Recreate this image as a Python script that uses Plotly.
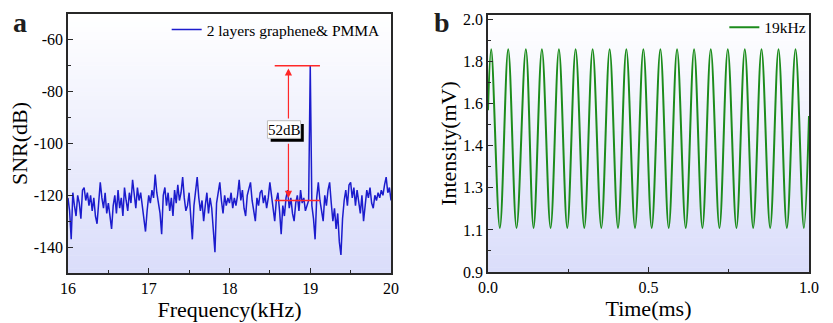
import plotly.graph_objects as go

# ---------------- Panel a: noise spectrum ----------------
freq_start_khz = 16.0
freq_step_khz = 0.02
snr_db = [
    # 16.00 - 16.48
    -121, -126, -137, -119, -124, -128, -120, -123, -129, -118, -117, -122, -119,
    -124, -120, -126, -121, -128, -131, -122, -115, -121, -125, -119, -127,
    # 16.50 - 16.98
    -123, -129, -133, -124, -120, -127, -118, -125, -121, -128, -117, -122, -126,
    -119, -123, -114, -120, -125, -117, -122, -119, -124, -128, -134, -126,
    # 17.00 - 17.48
    -120, -123, -118, -121, -112, -119, -124, -127, -135, -120, -117, -124, -119,
    -126, -121, -128, -118, -123, -116, -122, -119, -113, -121, -126, -124,
    # 17.50 - 17.98
    -119, -128, -137, -124, -118, -113, -121, -126, -122, -130, -124, -119, -127,
    -121, -125, -132, -142, -123, -118, -115, -122, -127, -120, -124, -121,
    # 18.00 - 18.48
    -123, -119, -125, -121, -124, -120, -114, -122, -118, -125, -128, -120, -117,
    -115, -122, -126, -130, -121, -124, -119, -118, -123, -120, -125, -121,
    # 18.50 - 18.98
    -115, -120, -124, -130, -122, -119, -126, -135, -124, -128, -121, -118, -125,
    -121, -127, -130, -123, -120, -126, -118, -123, -121, -126, -124, -122,
    # 19.00 - 19.48
    -70, -124, -129, -137, -121, -115, -122, -127, -130, -120, -124, -118, -115,
    -123, -130, -125, -133, -127, -138, -143, -129, -122, -118, -124, -116,
    # 19.50 - 20.00
    -115, -121, -117, -124, -118, -122, -127, -120, -130, -124, -118, -121, -117,
    -123, -125, -120, -122, -119, -121, -118, -120, -116, -113, -119, -117, -122,
]
freq_khz = [round(freq_start_khz + i * freq_step_khz, 3) for i in range(len(snr_db))]

snr_tickvals = [-60, -80, -100, -120, -140]
snr_ticktext = ["-60", "-80", "-100", "-120", "-140"]

# 52 dB marker: signal level, noise floor and the span of the bracket lines
signal_level_db = -70
noise_floor_db = -122
bracket_x = [18.56, 19.12]
arrow_x = 18.73
snr_label = "52dB"

# ---------------- Panel b: time-domain waveform ----------------
peak_times_ms = [0.010, 0.063, 0.118, 0.168, 0.221, 0.273, 0.326, 0.379, 0.431, 0.484,
                 0.537, 0.589, 0.642, 0.694, 0.747, 0.800, 0.852, 0.905, 0.958]
trough_times_ms = [0.037, 0.089, 0.142, 0.195, 0.247, 0.300, 0.353, 0.405, 0.458, 0.510,
                   0.563, 0.616, 0.668, 0.721, 0.774, 0.826, 0.879, 0.931, 0.984]
peak_level = 1.871
trough_level = 1.092
start_point = (0.0, 1.605)
end_point = (1.0, 1.58)

intensity_tickvals = [0.9, 1.0833, 1.2667, 1.45, 1.6333, 1.8167, 2.0]
intensity_ticktext = ["0.9", "1.1", "1.3", "1.4", "1.6", "1.8", "2.0"]

# Merge extremes into one time-ordered trace
wave_pts = [start_point]
wave_pts += [(t, peak_level) for t in peak_times_ms]
wave_pts += [(t, trough_level) for t in trough_times_ms]
wave_pts.append(end_point)
wave_pts.sort(key=lambda p: p[0])
wave_t = [p[0] for p in wave_pts]
wave_v = [p[1] for p in wave_pts]

FONT = "Liberation Serif, Times New Roman, serif"
BLUE = "rgb(28,28,205)"
GREEN = "rgb(28,140,28)"
RED = "rgb(255,40,40)"
AXIS = "rgb(40,40,40)"

fig = go.Figure()

fig.add_trace(go.Scatter(
    x=freq_khz, y=snr_db, mode="lines",
    line=dict(color=BLUE, width=1.5),
    name="2 layers graphene& PMMA",
    xaxis="x", yaxis="y", legend="legend",
))

fig.add_trace(go.Scatter(
    x=wave_t, y=wave_v, mode="lines",
    line=dict(color=GREEN, width=2, shape="spline", smoothing=1.0),
    name="19kHz",
    xaxis="x2", yaxis="y2", legend="legend2",
))

# Plot-area gradient: white at the top fading to pale lavender at the bottom
shapes = []
n_bands = 60
top_rgb = (255, 255, 255)
bot_rgb = (218, 221, 250)
for xr, yr in (("x domain", "y domain"), ("x2 domain", "y2 domain")):
    for i in range(n_bands):
        f = (i + 0.5) / n_bands  # 0 at bottom, 1 at top
        c = tuple(round(b + (t - b) * f) for t, b in zip(top_rgb, bot_rgb))
        shapes.append(dict(
            type="rect", xref=xr, yref=yr, layer="below",
            x0=0, x1=1, y0=i / n_bands, y1=(i + 1) / n_bands + 0.002,
            line=dict(width=0), fillcolor=f"rgb{c}",
        ))

# 52 dB bracket lines
for lvl in (signal_level_db, noise_floor_db):
    shapes.append(dict(type="line", xref="x", yref="y",
                       x0=bracket_x[0], x1=bracket_x[1], y0=lvl, y1=lvl,
                       line=dict(color=RED, width=1.5)))

# Label box with a dark drop shadow
box_x = (18.47, 18.88)
box_y = (-98.0, -91.2)
shapes.append(dict(type="rect", xref="x", yref="y",
                   x0=box_x[0] + 0.04, x1=box_x[1] + 0.04,
                   y0=box_y[0] - 1.3, y1=box_y[1] - 1.3,
                   line=dict(width=0), fillcolor="black"))
shapes.append(dict(type="rect", xref="x", yref="y",
                   x0=box_x[0], x1=box_x[1], y0=box_y[0], y1=box_y[1],
                   line=dict(color="rgb(190,190,190)", width=1), fillcolor="white"))

annotations = [
    # double-headed vertical arrow between noise floor and signal
    dict(x=arrow_x, y=signal_level_db - 1, ax=arrow_x, ay=box_y[1] + 0.3,
         xref="x", yref="y", axref="x", ayref="y", text="",
         showarrow=True, arrowhead=2, arrowsize=1.2, arrowwidth=1.2, arrowcolor=RED),
    dict(x=arrow_x, y=noise_floor_db + 1, ax=arrow_x, ay=box_y[0] - 1.5,
         xref="x", yref="y", axref="x", ayref="y", text="",
         showarrow=True, arrowhead=2, arrowsize=1.2, arrowwidth=1.2, arrowcolor=RED),
    dict(x=(box_x[0] + box_x[1]) / 2, y=(box_y[0] + box_y[1]) / 2, xref="x", yref="y",
         text=snr_label, showarrow=False, font=dict(family=FONT, size=15, color="black")),
    dict(x=0.013, y=0.985, xref="paper", yref="paper", text="<b>a</b>", showarrow=False,
         xanchor="left", yanchor="top", font=dict(family=FONT, size=28, color="rgb(30,30,30)")),
    dict(x=0.519, y=0.985, xref="paper", yref="paper", text="<b>b</b>", showarrow=False,
         xanchor="left", yanchor="top", font=dict(family=FONT, size=28, color="rgb(30,30,30)")),
]

axis_common = dict(
    showline=True, linecolor=AXIS, linewidth=1.5, mirror=True,
    ticks="inside", ticklen=5, tickwidth=1.2, tickcolor=AXIS,
    showgrid=False, zeroline=False,
    tickfont=dict(family=FONT, size=16, color="black"),
    automargin=False,
)
title_font = dict(family=FONT, size=22, color="black")

fig.update_layout(
    width=833, height=323,
    margin=dict(l=0, r=0, t=0, b=0),
    paper_bgcolor="white", plot_bgcolor="rgba(0,0,0,0)",
    showlegend=True,
    shapes=shapes, annotations=annotations,
    xaxis=dict(domain=[0.0816, 0.4694], anchor="y", range=[16, 20],
               tickvals=[16, 17, 18, 19, 20],
               minor=dict(ticks="inside", ticklen=3, tickcolor=AXIS, dtick=0.5, tick0=16),
               title=dict(text="Frequency(kHz)", font=title_font, standoff=3),
               **axis_common),
    yaxis=dict(domain=[0.1548, 0.9567], anchor="x", range=[-150, -50],
               tickvals=snr_tickvals, ticktext=snr_ticktext,
               minor=dict(ticks="inside", ticklen=3, tickcolor=AXIS, dtick=10, tick0=-50),
               title=dict(text="SNR(dB)", font=title_font, standoff=0),
               **axis_common),
    xaxis2=dict(domain=[0.5858, 0.9712], anchor="y2", range=[0, 1],
                tickvals=[0, 0.5, 1.0], ticktext=["0.0", "0.5", "1.0"],
                minor=dict(ticks="inside", ticklen=3, tickcolor=AXIS, dtick=0.25, tick0=0),
                title=dict(text="Time(ms)", font=title_font, standoff=1),
                **axis_common),
    yaxis2=dict(domain=[0.1579, 0.9536], anchor="x2", range=[0.9, 2.02],
                tickvals=intensity_tickvals, ticktext=intensity_ticktext,
                minor=dict(ticks="inside", ticklen=3, tickcolor=AXIS,
                           tickvals=[(a + b) / 2 for a, b in zip(intensity_tickvals[:-1], intensity_tickvals[1:])]),
                title=dict(text="Intensity(mV)", font=title_font, standoff=0),
                **axis_common),
    legend=dict(x=0.463, y=0.907, xanchor="right", yanchor="middle",
                bgcolor="rgba(0,0,0,0)", borderwidth=0,
                font=dict(family=FONT, size=15.5, color="black")),
    legend2=dict(x=0.974, y=0.914, xanchor="right", yanchor="middle",
                 bgcolor="rgba(0,0,0,0)", borderwidth=0,
                 font=dict(family=FONT, size=15.5, color="black")),
)

fig.write_html("out.html")
